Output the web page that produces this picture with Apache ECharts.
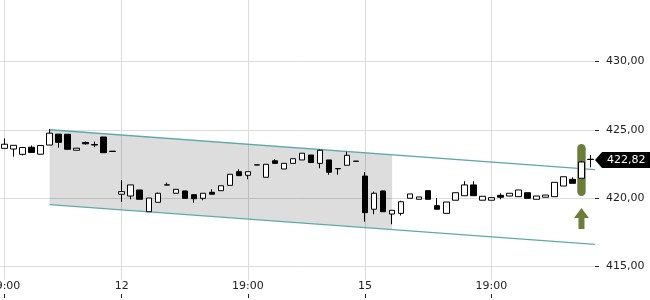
<!DOCTYPE html>
<html><head><meta charset="utf-8">
<script src="https://cdn.jsdelivr.net/npm/echarts@6/dist/echarts.min.js"></script>
<style>html,body{margin:0;padding:0;background:#fff}#c{width:650px;height:300px}</style>
</head><body><div id="c"></div>
<script>
// 15-minute session slots (15:30 .. 22:00)
const sessionTimes = ['15:30','15:45','16:00','16:15','16:30','16:45','17:00','17:15','17:30','17:45','18:00','18:15','18:30','18:45','19:00','19:15','19:30','19:45','20:00','20:15','20:30','20:45','21:00','21:15','21:30','21:45','22:00'];
const categories = [
  ...sessionTimes.slice(14).map(t => '11 ' + t),
  ...sessionTimes.map(t => '12 ' + t),
  ...sessionTimes.slice(0, 26).map(t => '15 ' + t)
];
const xTickIndices = [0, 13, 27, 40, 54];
const yTicks = [415, 420, 425, 430];

// candle values
const open  = [423.64,423.59,423.20,423.72,423.21,423.88,424.68,424.67,423.50,424.07,423.92,424.47,423.43,
  420.28,420.15,420.59,419.00,419.69,420.95,420.35,420.52,420.25,419.98,420.42,420.54,420.93,421.93,421.67,422.43,421.52,422.73,422.13,422.54,422.79,423.15,422.54,422.79,422.16,422.40,422.70,
  421.61,419.18,420.52,418.83,418.88,419.98,419.91,420.54,419.44,418.88,419.84,420.17,420.96,419.84,419.84,420.20,420.15,420.10,420.39,419.91,420.06,420.10,420.88,421.37,421.45,422.84];
const close = [423.94,423.86,423.70,423.34,423.85,424.75,424.08,423.57,423.65,423.97,423.88,423.32,423.41,
  420.47,420.96,419.91,420.00,420.35,420.97,420.64,419.98,419.95,420.35,420.28,420.90,421.74,421.64,421.93,422.42,422.47,422.54,422.54,422.88,423.28,422.60,423.50,421.89,422.14,423.13,422.69,
  418.93,420.35,419.00,419.10,419.73,420.30,420.08,419.91,419.18,419.71,420.39,420.96,420.17,420.13,420.03,420.06,420.35,420.59,419.98,420.15,420.22,421.15,421.56,421.08,422.64,422.82];
const low   = [423.64,423.03,423.12,423.34,423.21,423.88,423.69,423.57,423.50,423.92,423.72,423.32,423.41,
  419.73,419.91,419.91,419.00,419.69,420.95,420.35,419.98,419.66,419.84,420.28,420.54,420.93,421.64,421.37,422.42,421.52,422.49,422.13,422.54,422.79,422.60,422.18,421.71,421.71,422.40,422.69,
  418.27,418.81,419.00,418.08,418.72,419.98,419.91,419.91,419.18,418.88,419.84,420.17,420.17,419.84,419.84,419.91,420.15,420.10,419.98,419.91,420.06,420.10,420.88,421.08,421.45,422.25];
const high  = [424.37,423.86,423.70,423.85,423.85,425.04,424.68,424.67,423.65,424.14,424.13,424.47,423.43,
  421.32,420.96,420.59,420.00,420.40,421.13,420.64,420.52,420.25,420.35,420.64,420.90,421.74,422.11,421.93,422.43,422.47,422.84,422.54,422.88,423.28,423.15,423.55,422.79,422.16,423.39,422.70,
  421.89,420.47,420.52,419.10,419.80,420.30,420.08,420.54,420.00,419.71,420.39,421.23,421.23,420.13,420.03,420.35,420.35,420.59,420.39,420.15,420.22,421.15,421.56,421.52,422.71,423.15];

// trend channel
const channelX = [5, 65.5];
const channelUpper = [425.00, 422.08];
const channelLower = [419.52, 416.61];
const bandX = [5, 43];
const bandUpper = [425.00, 423.17];
const bandLower = [419.52, 417.69];

// highlight / signal
const highlightIndex = 64;
const highlightRange = [423.96, 420.15];
const arrowRange = [419.27, 417.73];
const lastPrice = 422.82;

const FONT = 'DejaVu Sans';
const GRID_COLOR = '#dcdcdc';
const TEAL = '#5fa9ab';
const OLIVE = '#6c7c3b';

const candleData = open.map((o, i) => [o, close[i], low[i], high[i]]);

function xLabel(v) {
  const c = categories[Math.round(v)];
  if (!c) return '';
  const [d, t] = c.split(' ');
  return t === '15:30' ? d : t;
}

const chart = echarts.init(document.getElementById('c'), null, {renderer: 'canvas'});
chart.setOption({
  animation: false,
  backgroundColor: '#fff',
  grid: {left: 0, right: 55, top: 0, bottom: 20, containLabel: false, outerBoundsMode: 'none'},
  xAxis: [
    {type: 'category', data: categories, boundaryGap: true, show: false},
    {type: 'value', min: -0.5, max: 65.5, position: 'bottom',
      axisLine: {show: false, onZero: false},
      axisTick: {show: false, customValues: xTickIndices},
      axisLabel: {customValues: xTickIndices, margin: 1, fontSize: 11, fontFamily: FONT, color: '#222', formatter: xLabel},
      splitLine: {show: true, lineStyle: {color: GRID_COLOR, width: 1}}},
    {type: 'value', min: -0.5, max: 65.5, position: 'bottom', offset: 14,
      axisLine: {show: false, onZero: false},
      axisTick: {show: true, length: 4, customValues: xTickIndices, lineStyle: {color: '#222'}},
      axisLabel: {show: false},
      splitLine: {show: false}}
  ],
  yAxis: {type: 'value', position: 'right', min: 414, max: 434.5,
    axisLine: {show: false, onZero: false},
    axisTick: {show: true, length: 4, customValues: yTicks, lineStyle: {color: '#222'}},
    axisLabel: {customValues: yTicks, margin: 11, fontSize: 11, fontFamily: FONT, color: '#222',
      formatter: v => v.toFixed(2).replace('.', ',')},
    splitLine: {show: true, lineStyle: {color: GRID_COLOR, width: 1}}},
  series: [
    {type: 'custom', xAxisIndex: 1, z: 1, silent: true, clip: false,
      data: [[bandX[0], bandUpper[0]]],
      renderItem: (params, api) => {
        const pts = [
          api.coord([bandX[0], bandUpper[0]]), api.coord([bandX[1], bandUpper[1]]),
          api.coord([bandX[1], bandLower[1]]), api.coord([bandX[0], bandLower[0]])
        ];
        return {type: 'polygon', shape: {points: pts}, style: {fill: 'rgba(0,0,0,0.135)'}};
      }},
    {type: 'line', xAxisIndex: 1, z: 2, silent: true, symbol: 'none',
      data: channelX.map((x, i) => [x, channelUpper[i]]),
      lineStyle: {color: TEAL, width: 1.3}},
    {type: 'line', xAxisIndex: 1, z: 2, silent: true, symbol: 'none',
      data: channelX.map((x, i) => [x, channelLower[i]]),
      lineStyle: {color: TEAL, width: 1.3}},
    {type: 'custom', xAxisIndex: 0, z: 3, silent: true, clip: false,
      data: [[highlightIndex, highlightRange[0], highlightRange[1]]],
      renderItem: (params, api) => {
        const t = api.coord([api.value(0), api.value(1)]);
        const b = api.coord([api.value(0), api.value(2)]);
        const w = 8.4;
        return {type: 'rect', shape: {x: t[0] - w / 2, y: t[1], width: w, height: b[1] - t[1], r: w / 2}, style: {fill: OLIVE}};
      }},
    {type: 'custom', xAxisIndex: 0, z: 3, silent: true, clip: false,
      data: [[highlightIndex, arrowRange[0], arrowRange[1]]],
      renderItem: (params, api) => {
        const t = api.coord([api.value(0), api.value(1)]);
        const b = api.coord([api.value(0), api.value(2)]);
        const x = t[0], hh = 10, hw = 7.5, sw = 3;
        const pts = [[x, t[1]], [x + hw, t[1] + hh], [x + sw, t[1] + hh], [x + sw, b[1]],
                     [x - sw, b[1]], [x - sw, t[1] + hh], [x - hw, t[1] + hh]];
        return {type: 'polygon', shape: {points: pts}, style: {fill: OLIVE}};
      }},
    {type: 'candlestick', xAxisIndex: 0, z: 5, barWidth: 6, silent: true,
      data: candleData,
      itemStyle: {color: '#fff', color0: '#000', borderColor: '#000', borderColor0: '#000', borderColorDoji: '#000', borderWidth: 1}},
    {type: 'custom', xAxisIndex: 1, z: 6, silent: true, clip: false,
      data: [[65.5, lastPrice]],
      renderItem: (params, api) => {
        const p = api.coord([api.value(0), api.value(1)]);
        const x = p[0], y = Math.round(p[1]);
        return {type: 'group', children: [
          {type: 'polygon', shape: {points: [[x, y], [x + 7, y - 8], [x + 60, y - 8], [x + 60, y + 8], [x + 7, y + 8]]}, style: {fill: '#000'}},
          {type: 'text', style: {x: x + 12, y: y + 0.5, text: api.value(1).toFixed(2).replace('.', ','), fill: '#fff', fontSize: 11, fontFamily: FONT, verticalAlign: 'middle', align: 'left'}}
        ]};
      }}
  ]
});
</script></body></html>
